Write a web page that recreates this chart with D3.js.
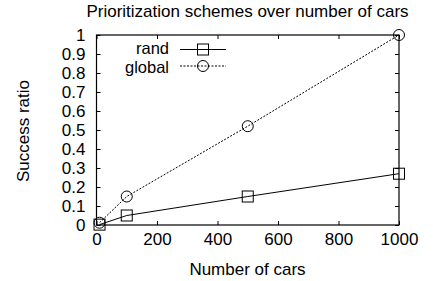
<!DOCTYPE html>
<html>
<head>
<meta charset="utf-8">
<script src="https://cdn.jsdelivr.net/npm/d3@7"></script>
<style>
  body { margin: 0; background: #fff; }
  text { font-family: "Liberation Sans", Arial, sans-serif; fill: #000; }
</style>
</head>
<body>
<div id="chart"></div>
<script>
// data
const cars = [10, 100, 500, 1000];
const rand = [0.002, 0.05, 0.15, 0.27];
const global = [0.012, 0.15, 0.52, 1.0];
const xTicks = [0, 200, 400, 600, 800, 1000];
const yTicks = [0, 0.1, 0.2, 0.3, 0.4, 0.5, 0.6, 0.7, 0.8, 0.9, 1];

const fs = 17;
const margin = {top: 35, right: 34, bottom: 56, left: 96.5};
const W = 433, H = 281;
const width = W - margin.left - margin.right;
const height = H - margin.top - margin.bottom;

const svg = d3.select('#chart').append('svg')
    .attr('width', W)
    .attr('height', H);

const g = svg.append('g')
    .attr('transform', 'translate(' + margin.left + ',' + margin.top + ')');

const x = d3.scaleLinear().domain([0, 1000]).range([0, width]);
const y = d3.scaleLinear().domain([0, 1]).range([height, 0]);

// axes, ticks point inward and are mirrored
g.append('g')
    .attr('transform', 'translate(0,' + height + ')')
    .call(d3.axisBottom(x).tickValues(xTicks).tickSizeInner(-4).tickSizeOuter(0).tickPadding(8).tickFormat(d3.format('')))
    .call(a => a.select('.domain').remove());
g.append('g')
    .call(d3.axisTop(x).tickValues(xTicks).tickSizeInner(-4).tickSizeOuter(0).tickFormat(''))
    .call(a => a.select('.domain').remove());
g.append('g')
    .call(d3.axisLeft(y).tickValues(yTicks).tickSizeInner(-4).tickSizeOuter(0).tickPadding(11).tickFormat(d3.format('')))
    .call(a => a.select('.domain').remove());
g.append('g')
    .attr('transform', 'translate(' + width + ',0)')
    .call(d3.axisRight(y).tickValues(yTicks).tickSizeInner(-4).tickSizeOuter(0).tickFormat(''))
    .call(a => a.select('.domain').remove());

g.selectAll('.tick text').attr('font-size', fs).attr('font-family', '"Liberation Sans", Arial, sans-serif');
g.selectAll('.tick line').attr('stroke', '#000');

g.append('rect')
    .attr('width', width)
    .attr('height', height)
    .attr('fill', 'none')
    .attr('stroke', '#000')
    .attr('stroke-width', 1.2);

const line = d3.line()
    .x((d, i) => x(cars[i]))
    .y(d => y(d));

// series
g.append('path')
    .datum(rand)
    .attr('d', line)
    .attr('fill', 'none')
    .attr('stroke', '#000')
    .attr('stroke-width', 1);

g.append('path')
    .datum(global)
    .attr('d', line)
    .attr('fill', 'none')
    .attr('stroke', '#000')
    .attr('stroke-width', 1)
    .attr('stroke-dasharray', '2,1.5');

g.selectAll('.sq')
    .data(rand)
    .enter().append('rect')
    .attr('x', (d, i) => x(cars[i]) - 5.5)
    .attr('y', d => y(d) - 5.5)
    .attr('width', 11)
    .attr('height', 11)
    .attr('fill', 'none')
    .attr('stroke', '#000');

g.selectAll('.ci')
    .data(global)
    .enter().append('circle')
    .attr('cx', (d, i) => x(cars[i]))
    .attr('cy', d => y(d))
    .attr('r', 5.5)
    .attr('fill', 'none')
    .attr('stroke', '#000');

// legend
const legend = svg.append('g');
legend.append('text').attr('x', 169).attr('y', 54).attr('text-anchor', 'end').attr('font-size', 16.5).text('rand');
legend.append('line').attr('x1', 180).attr('x2', 226).attr('y1', 49.5).attr('y2', 49.5).attr('stroke', '#000');
legend.append('rect').attr('x', 197.5).attr('y', 44).attr('width', 11).attr('height', 11).attr('fill', 'none').attr('stroke', '#000');

legend.append('text').attr('x', 169).attr('y', 72.5).attr('text-anchor', 'end').attr('font-size', 16.5).text('global');
legend.append('line').attr('x1', 180).attr('x2', 226).attr('y1', 66).attr('y2', 66).attr('stroke', '#000').attr('stroke-dasharray', '2,1.5');
legend.append('circle').attr('cx', 203).attr('cy', 66).attr('r', 5.5).attr('fill', 'none').attr('stroke', '#000');

// titles
svg.append('text')
    .attr('x', 247.5)
    .attr('y', 17)
    .attr('text-anchor', 'middle')
    .attr('font-size', fs)
    .text('Prioritization schemes over number of cars');

svg.append('text')
    .attr('x', 247.5)
    .attr('y', 275)
    .attr('text-anchor', 'middle')
    .attr('font-size', fs)
    .text('Number of cars');

svg.append('text')
    .attr('transform', 'translate(29,131) rotate(-90)')
    .attr('text-anchor', 'middle')
    .attr('font-size', fs)
    .text('Success ratio');
</script>
</body>
</html>
